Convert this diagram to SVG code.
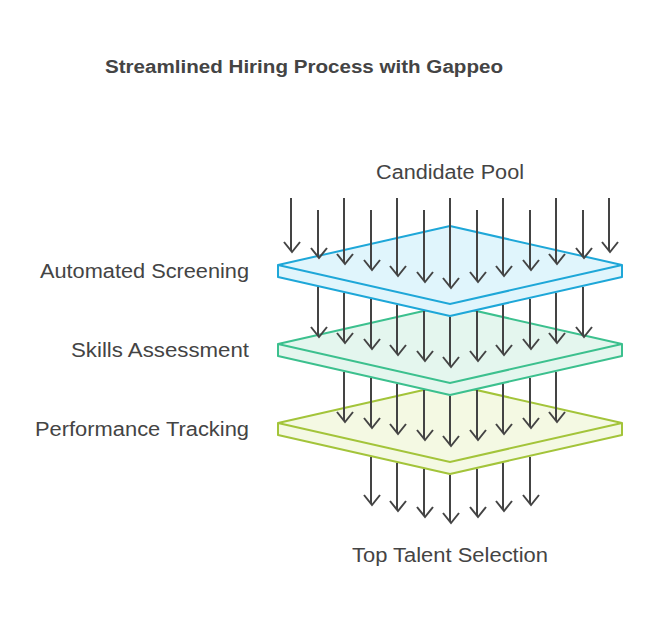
<svg xmlns="http://www.w3.org/2000/svg" width="650" height="623" viewBox="0 0 650 623">
<style>
text{font-family:"Liberation Sans",Arial,sans-serif;fill:#444;font-size:20px}
.t{font-weight:bold;font-size:18px}
.a line{stroke:#444;stroke-width:2;marker-end:url(#h)}
</style>
<defs><marker id="h" markerUnits="userSpaceOnUse" markerWidth="20" markerHeight="20" refX="10" refY="11" orient="auto-start-reverse" viewBox="0 0 20 20"><path d="M2,1 L10,11 L18,1" fill="none" stroke="#444" stroke-width="2" transform="rotate(-90 10 10)"/></marker></defs>
<rect width="650" height="623" fill="#fff"/>
<text class="t" x="105" y="73" textLength="398" lengthAdjust="spacingAndGlyphs">Streamlined Hiring Process with Gappeo</text>
<text x="376" y="179" textLength="148" lengthAdjust="spacingAndGlyphs">Candidate Pool</text>
<text x="352" y="562" textLength="196" lengthAdjust="spacingAndGlyphs">Top Talent Selection</text>
<g id="layer3"><path d="M278,423 L450,384 L622,423 L622,435 L450,474 L278,435Z" fill="#f4f9e3" stroke="#a3c43a" stroke-width="2" stroke-linejoin="round"/><path d="M278,423 L450,462 L622,423" fill="none" stroke="#a3c43a" stroke-width="2"/><text x="35" y="436" textLength="214" lengthAdjust="spacingAndGlyphs">Performance Tracking</text></g>
<g id="layer2"><path d="M278,344 L450,305 L622,344 L622,356 L450,395 L278,356Z" fill="#e4f6ee" stroke="#3cc08e" stroke-width="2" stroke-linejoin="round"/><path d="M278,344 L450,383 L622,344" fill="none" stroke="#3cc08e" stroke-width="2"/><text x="71" y="357" textLength="178" lengthAdjust="spacingAndGlyphs">Skills Assessment</text></g>
<g id="layer1"><path d="M278,265 L450,226 L622,265 L622,277 L450,316 L278,277Z" fill="#e0f5fc" stroke="#1ea7d8" stroke-width="2" stroke-linejoin="round"/><path d="M278,265 L450,304 L622,265" fill="none" stroke="#1ea7d8" stroke-width="2"/><text x="40" y="278" textLength="209" lengthAdjust="spacingAndGlyphs">Automated Screening</text></g>
<g id="connectors" class="a">
<line x1="291" y1="198" x2="291" y2="251"/><line x1="318" y1="210" x2="318" y2="257"/><line x1="344" y1="198" x2="344" y2="263"/><line x1="371" y1="210" x2="371" y2="269"/><line x1="397" y1="198" x2="397" y2="275"/><line x1="424" y1="210" x2="424" y2="281"/><line x1="450" y1="198" x2="450" y2="287"/><line x1="477" y1="210" x2="477" y2="281"/><line x1="503" y1="198" x2="503" y2="275"/><line x1="530" y1="210" x2="530" y2="269"/><line x1="556" y1="198" x2="556" y2="263"/><line x1="583" y1="210" x2="583" y2="257"/><line x1="609" y1="198" x2="609" y2="251"/>
<line x1="318" y1="287" x2="318" y2="336"/><line x1="344" y1="293" x2="344" y2="342"/><line x1="371" y1="299" x2="371" y2="348"/><line x1="397" y1="305" x2="397" y2="354"/><line x1="424" y1="311" x2="424" y2="360"/><line x1="450" y1="317" x2="450" y2="366"/><line x1="477" y1="311" x2="477" y2="360"/><line x1="503" y1="305" x2="503" y2="354"/><line x1="530" y1="299" x2="530" y2="348"/><line x1="556" y1="293" x2="556" y2="342"/><line x1="583" y1="287" x2="583" y2="336"/>
<line x1="344" y1="372" x2="344" y2="421"/><line x1="371" y1="378" x2="371" y2="427"/><line x1="397" y1="384" x2="397" y2="433"/><line x1="424" y1="390" x2="424" y2="439"/><line x1="450" y1="396" x2="450" y2="445"/><line x1="477" y1="390" x2="477" y2="439"/><line x1="503" y1="384" x2="503" y2="433"/><line x1="530" y1="378" x2="530" y2="427"/><line x1="556" y1="372" x2="556" y2="421"/>
<line x1="371" y1="457" x2="371" y2="504"/><line x1="397" y1="463" x2="397" y2="510"/><line x1="424" y1="469" x2="424" y2="516"/><line x1="450" y1="475" x2="450" y2="522"/><line x1="477" y1="469" x2="477" y2="516"/><line x1="503" y1="463" x2="503" y2="510"/><line x1="530" y1="457" x2="530" y2="504"/>
</g>
</svg>
